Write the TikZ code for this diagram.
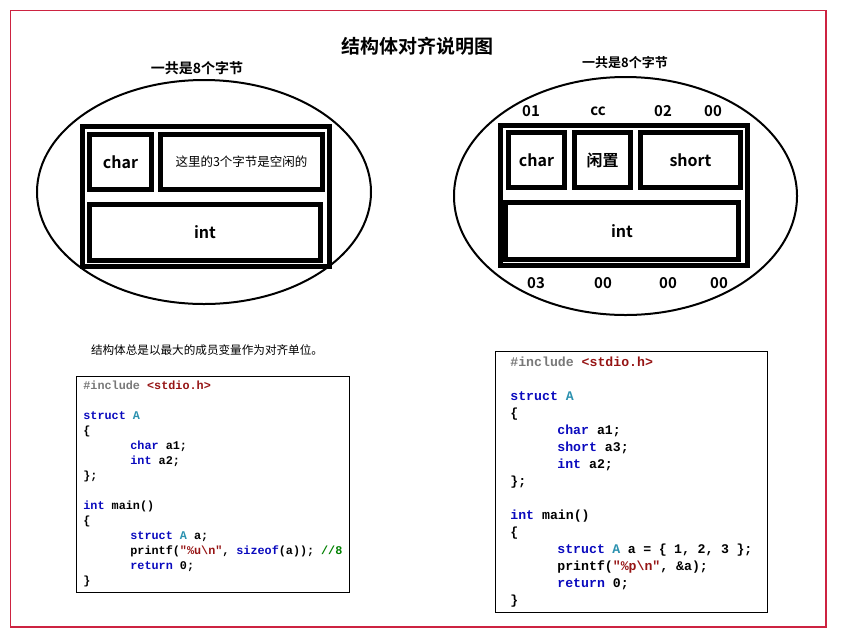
\documentclass[tikz,border=0pt]{standalone}
\usepackage{fontspec}
\setmainfont{Noto Sans CJK SC}[BoldFont={Noto Sans CJK SC Bold}]
\newfontfamily\codefont{Liberation Mono}[BoldFont={Liberation Mono Bold}]
\usetikzlibrary{positioning}
\definecolor{pageRed}{RGB}{205,35,65}
\definecolor{kwBlue}{RGB}{10,10,190}
\definecolor{tyTeal}{RGB}{43,145,175}
\definecolor{strRed}{RGB}{150,20,20}
\definecolor{cmtGreen}{RGB}{0,128,0}
\definecolor{ppGray}{RGB}{120,120,120}
\newcommand{\kw}[1]{\textcolor{kwBlue}{#1}}
\newcommand{\ty}[1]{\textcolor{tyTeal}{#1}}
\newcommand{\str}[1]{\textcolor{strRed}{#1}}
\newcommand{\ind}{\hspace*{47pt}}

\begin{document}
\begin{tikzpicture}[x=1pt,y=-1pt,
    cell/.style={draw,line width=5pt,inner sep=0pt,font=\bfseries\fontsize{16}{18}\selectfont},
    byte/.style={font=\bfseries\fontsize{15}{17}\selectfont},
    codebox/.style={draw,line width=.8pt,anchor=north west,align=flush left,inner xsep=7pt,
      inner ysep=3pt}]
  \useasboundingbox (0,0) rectangle (842,641);
  \draw[pageRed,line width=1.2pt] (10.5,10.5) rectangle (826,627);
  \node[font=\bfseries\fontsize{19}{21}\selectfont] (title) at (417,46) {结构体对齐说明图};

  % left: char + int
  \node[font=\bfseries\fontsize{14}{16}\selectfont] (lsize) at (197,68) {一共是8个字节};
  \draw[line width=2pt] (204,192) ellipse [x radius=167,y radius=112];
  \node[cell,minimum width=247,minimum height=140] (lframe) at (206,196.5) {};
  \node[cell,minimum width=62,minimum height=55] (lchar) at (120.5,162) {char};
  \node[cell,minimum width=162,minimum height=55,font=\fontsize{12.5}{14}\selectfont] (lpad) at (241.5,162) {这里的3个字节是空闲的};
  \node[cell,minimum width=231,minimum height=56] (lint) at (205,232.5) {int};

  % right: char + short + int
  \node[font=\bfseries\fontsize{13}{15}\selectfont] (rsize) at (625,63) {一共是8个字节};
  \draw[line width=2pt] (625.5,196) ellipse [x radius=171.5,y radius=119];
  \node[cell,minimum width=247,minimum height=140] (rframe) at (624,195.5) {};
  \node[cell,minimum width=56,minimum height=55] (rchar) at (536.5,160) {char};
  \node[cell,minimum width=56,minimum height=55] (rpad) at (602.5,160) {闲置};
  \node[cell,minimum width=100,minimum height=55] (rshort) at (690.5,160) {short};
  \node[cell,minimum width=233,minimum height=57] (rint) at (622,231) {int};
  \foreach \x/\b in {531/01,598/cc,663/02,713/00}
    \node[byte] (top\x) at (\x,111) {\b};
  \foreach \x/\b in {536/03,603/00,668/00,719/00}
    \node[byte] (bot\x) at (\x,283) {\b};

  \node[font=\fontsize{11.6}{13}\selectfont] (rule) at (207,350) {结构体总是以最大的成员变量作为对齐单位。};

  % code
  \node[codebox,text width=259,minimum height=216,font=\codefont\bfseries\fontsize{11.8}{15}\selectfont] (lcode) at (76,376) {%
    \textcolor{ppGray}{\#include} \str{<stdio.h>}\\
    \mbox{}\\
    \kw{struct} \ty{A}\\
    \{\\
    \ind\kw{char} a1;\\
    \ind\kw{int} a2;\\
    \};\\
    \mbox{}\\
    \kw{int} main()\\
    \{\\
    \ind\kw{struct} \ty{A} a;\\
    \ind printf(\str{"\%u\textbackslash n"}, \kw{sizeof}(a)); \textcolor{cmtGreen}{//8}\\
    \ind\kw{return} 0;\\
    \}};
  \node[codebox,text width=242,minimum height=261,inner xsep=15pt,font=\codefont\bfseries\fontsize{13.2}{17}\selectfont] (rcode) at (495,351) {%
    \textcolor{ppGray}{\#include} \str{<stdio.h>}\\
    \mbox{}\\
    \kw{struct} \ty{A}\\
    \{\\
    \ind\kw{char} a1;\\
    \ind\kw{short} a3;\\
    \ind\kw{int} a2;\\
    \};\\
    \mbox{}\\
    \kw{int} main()\\
    \{\\
    \ind\kw{struct} \ty{A} a = \{ 1, 2, 3 \};\\
    \ind printf(\str{"\%p\textbackslash n"}, \&a);\\
    \ind\kw{return} 0;\\
    \}};
\end{tikzpicture}
\end{document}
